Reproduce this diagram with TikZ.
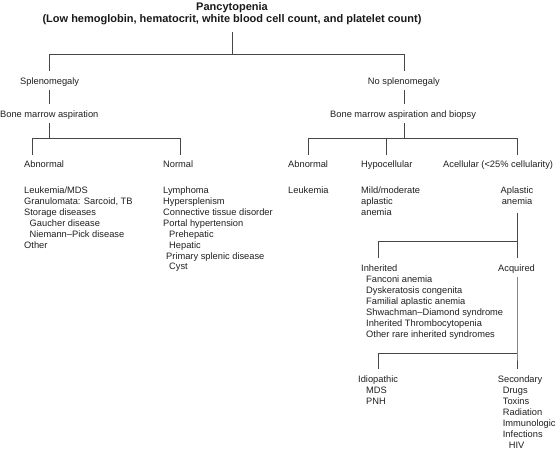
\documentclass[tikz,border=0pt]{standalone}
\usepackage{fontspec}
\setmainfont{Liberation Sans}
\newcommand{\firstln}{\rule{0pt}{6.8pt}}
\newcommand{\titleln}{\rule{0pt}{8pt}}
\begin{document}
\begin{tikzpicture}[x=1pt,y=-1pt,
  txt/.style={inner sep=0pt, font=\fontsize{9.3}{10.9}\selectfont, text=black!88, align=left, anchor=north west, yshift=3.4pt},
  one/.style={txt, text height=6.8pt, text depth=2pt},
  ttl/.style={inner sep=0pt, font=\bfseries\fontsize{11}{12}\selectfont, text=black!90, align=center, anchor=north},
  conn/.style={draw=black!72, line width=0.6pt}]
\useasboundingbox (0,0) rectangle (556,449);

% title
\node[ttl] (title) at (232,2.7) {\titleln Pancytopenia\\(Low hemoglobin, hematocrit, white blood cell count, and platelet count)};

% left branch
\node[one] (spl) at (20,81) {Splenomegaly};
\node[one] (bma) at (0,114) {Bone marrow aspiration};
\node[one] (abnL) at (24,164) {Abnormal};
\node[one] (norL) at (163,164) {Normal};
\node[txt] (abnLlist) at (24,190) {\firstln Leukemia/MDS\\Granulomata: Sarcoid, TB\\Storage diseases\\\hspace*{5.5pt}Gaucher disease\\\hspace*{5.5pt}Niemann–Pick disease\\Other};
\node[txt] (norLlist) at (163,190) {\firstln Lymphoma\\Hypersplenism\\Connective tissue disorder\\Portal hypertension\\\hspace*{6pt}Prehepatic\\\hspace*{6pt}Hepatic\\\hspace*{3pt}Primary splenic disease\\\hspace*{6pt}Cyst};

% right branch
\node[one] (nospl) at (367.7,81) {No splenomegaly};
\node[one] (bmab) at (330,114) {Bone marrow aspiration and biopsy};
\node[one] (abnR) at (288,164) {Abnormal};
\node[one] (hypo) at (361,164) {Hypocellular};
\node[one] (acel) at (443,164) {Acellular (<25\% cellularity)};
\node[one] (leuk) at (288,190) {Leukemia};
\node[txt] (mild) at (361,190) {\firstln Mild/moderate\\aplastic\\anemia};
\node[txt, anchor=north, align=center] (apl) at (517,190) {\firstln Aplastic\\anemia};
\node[txt] (inh) at (361,268) {\firstln Inherited\\\hspace*{5pt}Fanconi anemia\\\hspace*{5pt}Dyskeratosis congenita\\\hspace*{5pt}Familial aplastic anemia\\\hspace*{5pt}Shwachman–Diamond syndrome\\\hspace*{5pt}Inherited Thrombocytopenia\\\hspace*{5pt}Other rare inherited syndromes};
\node[one] (acq) at (498,268) {Acquired};
\node[txt] (idio) at (358,379) {\firstln Idiopathic\\\hspace*{8pt}MDS\\\hspace*{8pt}PNH};
\node[txt] (sec) at (497.7,379) {\firstln Secondary\\\hspace*{5pt}Drugs\\\hspace*{5pt}Toxins\\\hspace*{5pt}Radiation\\\hspace*{5pt}Immunologic\\\hspace*{5pt}Infections\\\hspace*{11pt}HIV};

% junction coordinates
\coordinate (j0) at (232,54);
\coordinate (aL) at (32,138);
\coordinate (nL) at (180,138);
\coordinate (aR) at (308,138);
\coordinate (hR) at (386,138);
\coordinate (mR) at (404,138);
\coordinate (cR) at (517,138);
\coordinate (jI) at (517,241);
\coordinate (iI) at (378,241);
\coordinate (jS) at (517,353);
\coordinate (iS) at (378,353);

% connectors
\draw[conn] ([yshift=-6.7pt]title.south -| j0) -- (j0);
\draw[conn] ([yshift=6.5pt]spl.north) -- (spl.north |- j0) -- (nospl.north |- j0) -- ([yshift=6.5pt]nospl.north);
\draw[conn] ([yshift=-3.6pt]spl.south) -- ([yshift=6.5pt]bma.north -| spl.south);
\draw[conn] ([yshift=-3.6pt]bma.south -| spl.south) -- (spl.south |- aL);
\draw[conn] ([yshift=5.6pt]abnL.north -| aL) -- (aL) -- (nL) -- ([yshift=5.6pt]norL.north -| nL);

\draw[conn] ([yshift=-3.6pt]nospl.south) -- ([yshift=6.5pt]bmab.north -| nospl.south);
\draw[conn] ([yshift=-3.6pt]bmab.south -| mR) -- (mR);
\draw[conn] ([yshift=5.6pt]abnR.north -| aR) -- (aR) -- (cR) -- ([yshift=5.6pt]acel.north -| cR);
\draw[conn] (hR) -- ([yshift=5.6pt]hypo.north -| hR);

\draw[conn] ([yshift=-8.7pt]apl.south -| jI) -- (jI) -- (iI) -- ([yshift=6.6pt]inh.north -| iI);
\draw[conn] (jI) -- ([yshift=6.6pt]acq.north -| jI);
\draw[conn] ([yshift=-3.6pt]acq.south -| jS) -- (jS) -- ([yshift=6.6pt]sec.north -| jS);
\draw[conn] (jS) -- (iS) -- ([yshift=6.6pt]idio.north -| iS);
\end{tikzpicture}
\end{document}
